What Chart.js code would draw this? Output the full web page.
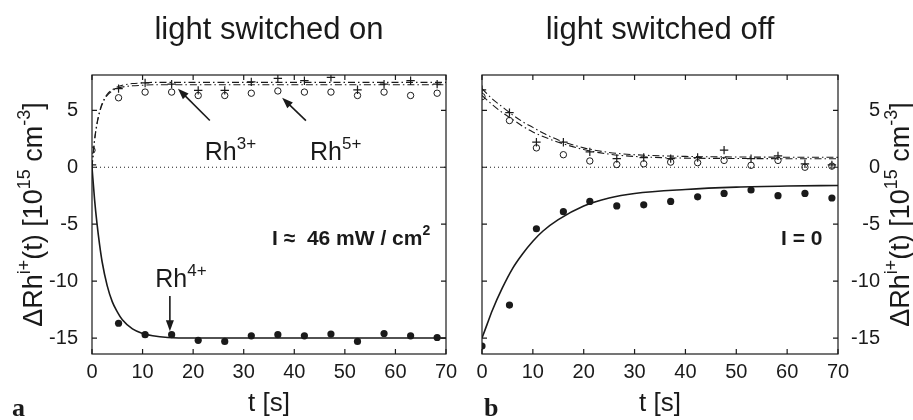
<!DOCTYPE html>
<html>
<head>
<meta charset="utf-8">
<script src="https://cdn.jsdelivr.net/npm/chart.js@4.4.1/dist/chart.umd.min.js"></script>
<style>
  html, body { margin: 0; padding: 0; background: #fff; }
  #wrap { position: relative; width: 913px; height: 420px; overflow: hidden; }
  .panel { position: absolute; top: 0; height: 420px; }
</style>
</head>
<body>
<div id="wrap">
  <div class="panel" style="left:0;width:538px"><canvas id="chartOn"></canvas></div>
  <div class="panel" style="left:407px;width:506px"><canvas id="chartOff"></canvas></div>
</div>
<script>
// axis ticks (both panels)
const xTicks = [0, 10, 20, 30, 40, 50, 60, 70];
const yTicks = [-15, -10, -5, 0, 5];
const zeroT = [0, 70];
const zeroV = [0, 0];

// panel a: light switched on, measured points
const onTimes = [0, 5.25, 10.5, 15.75, 21, 26.25, 31.5, 36.75, 42, 47.25, 52.5, 57.75, 63, 68.25];
const onRh4 = [null, -13.7, -14.7, -14.7, -15.2, -15.3, -14.8, -14.7, -14.8, -14.65, -15.3, -14.6, -14.8, -14.95];
const onRh5 = [1.5, 6.1, 6.6, 6.6, 6.3, 6.3, 6.5, 6.7, 6.6, 6.6, 6.3, 6.6, 6.3, 6.5];
const onRh3 = [0.2, 6.9, 7.4, 7.3, 6.75, 6.75, 7.5, 7.8, 7.6, 7.9, 6.8, 7.3, 7.6, 7.3];

// panel a: fitted curves
const onFitT = [0, 0.5, 1, 1.5, 2, 3, 4, 5, 6, 8, 10, 12, 15, 20, 70];
const onFit4 = [0, -2.8, -5.0, -6.8, -8.3, -10.4, -11.8, -12.7, -13.4, -14.2, -14.6, -14.8, -14.95, -15, -15];
const onFit3 = [0, 2.4, 3.9, 4.9, 5.6, 6.4, 6.8, 7.05, 7.2, 7.35, 7.4, 7.45, 7.45, 7.45, 7.45];
const onFit5 = [0, 2.3, 3.8, 4.8, 5.5, 6.3, 6.7, 6.95, 7.05, 7.15, 7.2, 7.25, 7.25, 7.25, 7.25];

// panel b: light switched off, measured points
const offTimes = [0, 5.4, 10.7, 16, 21.2, 26.5, 31.8, 37.1, 42.4, 47.6, 52.9, 58.2, 63.5, 68.8];
const offRh4 = [-15.7, -12.1, -5.4, -3.9, -3.0, -3.4, -3.3, -3.0, -2.6, -2.3, -2.0, -2.5, -2.3, -2.7];
const offRh5 = [6.2, 4.1, 1.7, 1.1, 0.55, 0.24, 0.3, 0.45, 0.4, 0.6, 0.17, 0.6, 0.0, 0.1];
const offRh3 = [6.8, 4.8, 2.2, 2.2, 1.35, 0.76, 0.85, 0.76, 0.85, 1.5, 0.76, 1.0, 0.3, 0.2];

// panel b: fitted curves
const offFitT = [0, 1, 2, 4, 6, 8, 10, 12, 15, 20, 25, 30, 40, 50, 60, 70];
const offFit4 = [-15, -13.8, -12.6, -10.6, -8.9, -7.6, -6.5, -5.6, -4.6, -3.4, -2.7, -2.3, -1.95, -1.75, -1.65, -1.6];
const offFit3 = [6.9, 6.45, 6.0, 5.3, 4.6, 4.0, 3.5, 3.0, 2.4, 1.7, 1.3, 1.1, 0.95, 0.9, 0.88, 0.87];
const offFit5 = [6.3, 5.9, 5.5, 4.8, 4.2, 3.6, 3.1, 2.7, 2.2, 1.55, 1.15, 0.95, 0.8, 0.77, 0.75, 0.75];

const ink = '#1a1a1a';
const sans = "'Liberation Sans', Arial, Helvetica, sans-serif";
Chart.defaults.font.family = sans;
Chart.defaults.color = ink;

const pts = (xs, ys) => xs.map((t, i) => ({ x: t, y: ys[i] })).filter(p => p.y !== null);

// text with superscripts: parts = [[text, isSup], ...]
function partsWidth(ctx, parts, size, weight) {
    let w = 0;
    parts.forEach(([txt, sup]) => {
        ctx.font = `${weight} ${sup ? Math.round(size * 0.68) : size}px ${sans}`;
        w += ctx.measureText(txt).width;
    });
    return w;
}
function drawParts(ctx, parts, x, y, size, weight) {
    ctx.textBaseline = 'alphabetic';
    ctx.textAlign = 'left';
    parts.forEach(([txt, sup]) => {
        ctx.font = `${weight} ${sup ? Math.round(size * 0.68) : size}px ${sans}`;
        ctx.fillText(txt, x, sup ? y - size * 0.45 : y);
        x += ctx.measureText(txt).width;
    });
}
function arrow(ctx, x1, y1, x2, y2) {
    const ang = Math.atan2(y2 - y1, x2 - x1);
    const hl = 11, hw = 4;
    ctx.beginPath();
    ctx.moveTo(x1, y1);
    ctx.lineTo(x2 - Math.cos(ang) * hl * 0.8, y2 - Math.sin(ang) * hl * 0.8);
    ctx.lineWidth = 1.6;
    ctx.stroke();
    ctx.beginPath();
    ctx.moveTo(x2, y2);
    ctx.lineTo(x2 - Math.cos(ang) * hl - Math.sin(ang) * hw, y2 - Math.sin(ang) * hl + Math.cos(ang) * hw);
    ctx.lineTo(x2 - Math.cos(ang) * hl + Math.sin(ang) * hw, y2 - Math.sin(ang) * hl - Math.cos(ang) * hw);
    ctx.closePath();
    ctx.fill();
}

const yTitleParts = [['\u0394Rh', 0], ['i+', 1], ['(t) [10', 0], ['15', 1], [' cm', 0], ['-3', 1], [']', 0]];

const decor = {
    id: 'decor',
    afterDraw(chart, args, opts) {
        const { ctx, chartArea: a } = chart;
        const x = chart.scales.x, y = chart.scales.y;
        ctx.save();
        ctx.strokeStyle = ink;
        ctx.fillStyle = ink;

        // box with inward ticks
        ctx.lineWidth = 1.2;
        ctx.strokeRect(a.left, a.top, a.right - a.left, a.bottom - a.top);
        ctx.beginPath();
        x.ticks.forEach(t => {
            const px = x.getPixelForValue(t.value);
            ctx.moveTo(px, a.bottom); ctx.lineTo(px, a.bottom - 5);
            ctx.moveTo(px, a.top); ctx.lineTo(px, a.top + 5);
        });
        y.ticks.forEach(t => {
            const py = y.getPixelForValue(t.value);
            ctx.moveTo(a.left, py); ctx.lineTo(a.left + 5, py);
            ctx.moveTo(a.right, py); ctx.lineTo(a.right - 5, py);
        });
        ctx.stroke();

        // rotated y title
        const cy = (a.top + a.bottom) / 2;
        ctx.save();
        ctx.translate(opts.yTitleX, cy);
        ctx.rotate(-Math.PI / 2);
        const w = partsWidth(ctx, yTitleParts, 27, 'normal');
        drawParts(ctx, yTitleParts, -w / 2, 0, 27, 'normal');
        ctx.restore();

        // labels placed in data units
        opts.labels.forEach(l => {
            drawParts(ctx, l.parts, x.getPixelForValue(l.t), y.getPixelForValue(l.v), l.size, l.weight || 'normal');
        });
        opts.arrows.forEach(r => {
            arrow(ctx, x.getPixelForValue(r[0]), y.getPixelForValue(r[1]), x.getPixelForValue(r[2]), y.getPixelForValue(r[3]));
        });

        // panel letter
        ctx.font = `bold 26px 'Liberation Serif', 'Times New Roman', serif`;
        ctx.textAlign = 'left';
        ctx.textBaseline = 'alphabetic';
        ctx.fillText(opts.letter, opts.letterX, 416);
        ctx.restore();
    }
};

function buildDatasets(times, rh3, rh4, rh5, fitT, fit3, fit4, fit5) {
    const line = { yAxisID: 'y', pointRadius: 0, fill: false, cubicInterpolationMode: 'monotone', borderColor: ink };
    const marks = { yAxisID: 'y', showLine: false, pointHoverRadius: 0 };
    return [
        { ...line, label: 'zero', data: pts(zeroT, zeroV), borderWidth: 1, borderDash: [1, 3], cubicInterpolationMode: 'default' },
        { ...line, label: 'Rh4+ fit', data: pts(fitT, fit4), borderWidth: 1.6 },
        { ...line, label: 'Rh3+ fit', data: pts(fitT, fit3), borderWidth: 1.1, borderDash: [7, 3, 1.5, 3] },
        { ...line, label: 'Rh5+ fit', data: pts(fitT, fit5), borderWidth: 1.1, borderDash: [7, 3, 1.5, 3] },
        { ...marks, label: 'Rh4+', data: pts(times, rh4), pointRadius: 3.6, pointBackgroundColor: ink, pointBorderColor: ink, pointBorderWidth: 0 },
        { ...marks, label: 'Rh5+', data: pts(times, rh5), pointRadius: 3.2, pointBackgroundColor: 'rgba(0,0,0,0)', pointBorderColor: ink, pointBorderWidth: 1 },
        { ...marks, label: 'Rh3+', data: pts(times, rh3), pointStyle: 'cross', pointRadius: 4.2, pointBorderColor: ink, pointBorderWidth: 1.2 }
    ];
}

const tickFont = { size: 20 };
const noGrid = { display: false, drawTicks: false };
const setTicks = list => scale => { scale.ticks = list.map(v => ({ value: v })); };

// side.w: width of the tick-label band, side.outer: extra band for the y title (right panel)
function makeChart(id, title, side, datasets, decorOpts) {
    const hidden = { display: true, min: -16.4, max: 8.1, ticks: { display: false }, grid: noGrid, border: { display: false } };
    const scales = {
        x: {
            type: 'linear', min: 0, max: 70,
            afterBuildTicks: setTicks(xTicks),
            ticks: { font: tickFont, color: ink, padding: 6, maxRotation: 0, autoSkip: false },
            grid: noGrid, border: { display: false },
            title: { display: true, text: 't [s]', font: { size: 26 }, color: ink, padding: { top: 0, bottom: 1 } },
            afterFit: s => { s.height = 66; }
        },
        y: {
            type: 'linear', position: side.pos, min: -16.4, max: 8.1, weight: 0,
            afterBuildTicks: setTicks(yTicks),
            ticks: { font: tickFont, color: ink, padding: side.pad, crossAlign: side.pos === 'right' ? 'far' : 'near' },
            grid: noGrid, border: { display: false },
            afterFit: s => { s.width = side.w; }
        }
    };
    scales.yPad = { ...hidden, position: side.pos === 'left' ? 'right' : 'left', afterFit: s => { s.width = side.pad2; } };
    if (side.outer) {
        scales.yOut = { ...hidden, position: 'right', weight: 1, afterFit: s => { s.width = side.outer; } };
    }

    return new Chart(document.getElementById(id), {
        type: 'line',
        data: { datasets },
        options: {
            responsive: true,
            maintainAspectRatio: false,
            animation: false,
            layout: { padding: 0 },
            plugins: {
                legend: { display: false },
                tooltip: { enabled: false },
                title: { display: true, text: title, color: ink, font: { size: 31, weight: 'normal' }, padding: { top: 12, bottom: 25.8 } },
                decor: decorOpts
            },
            scales
        },
        plugins: [decor]
    });
}

makeChart('chartOn', 'light switched on', { pos: 'left', w: 92, pad: 14, pad2: 92 },
    buildDatasets(onTimes, onRh3, onRh4, onRh5, onFitT, onFit3, onFit4, onFit5),
    {
        yTitleX: 42, letter: 'a', letterX: 12,
        labels: [
            { t: 22.3, v: 0.6, size: 25, parts: [['Rh', 0], ['3+', 1]] },
            { t: 43.1, v: 0.6, size: 25, parts: [['Rh', 0], ['5+', 1]] },
            { t: 12.5, v: -10.5, size: 25, parts: [['Rh', 0], ['4+', 1]] },
            { t: 35.6, v: -6.8, size: 21, weight: 'bold', parts: [['I \u2248  46 mW / cm', 0], ['2', 1]] }
        ],
        arrows: [[23.3, 4.1, 17, 6.9], [42.3, 4.1, 37.6, 6.1], [15.4, -11.3, 15.4, -14.4]]
    });

makeChart('chartOff', 'light switched off', { pos: 'right', w: 42, outer: 33, pad: 0, pad2: 75 },
    buildDatasets(offTimes, offRh3, offRh4, offRh5, offFitT, offFit3, offFit4, offFit5),
    {
        yTitleX: 502, letter: 'b', letterX: 77,
        labels: [
            { t: 58.8, v: -6.8, size: 21, weight: 'bold', parts: [['I = 0', 0]] }
        ],
        arrows: []
    });
</script>
</body>
</html>
